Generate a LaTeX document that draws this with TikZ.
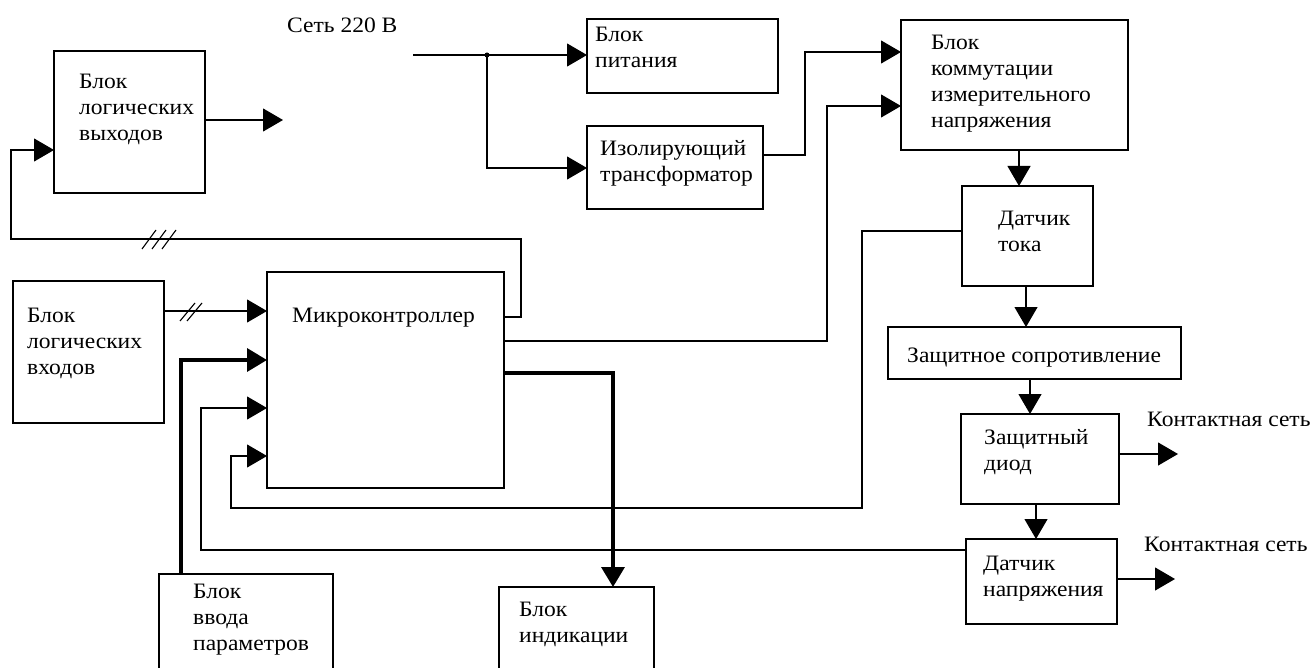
\documentclass[tikz,border=0pt]{standalone}
\usepackage{fontspec}
\setmainfont[FakeStretch=1.07]{Liberation Serif}
\usetikzlibrary{arrows.meta}
\begin{document}
\begin{tikzpicture}[x=1pt,y=-1pt,
  box/.style={draw,line width=1.1pt,inner sep=0pt,outer sep=0pt,anchor=north west},
  txt/.style={anchor=north west,inner sep=0pt,align=left,yshift=18.2pt,font=\fontsize{22}{26}\selectfont},
  ln/.style={line width=1.1pt},
  arr/.style={ln,-{Triangle[length=20pt,width=23pt]}},
  tarr/.style={line width=3.5pt,-{Triangle[length=20pt,width=23pt]}}]
\clip (0,0) rectangle (1311,668);
\useasboundingbox (0,0) rectangle (1311,668);
% boxes
\node[box,minimum width=151pt,minimum height=142pt] (blv) at (54,51) {};
\node[box,minimum width=191pt,minimum height=74pt] (pit) at (587,19) {};
\node[box,minimum width=176pt,minimum height=83pt] (trans) at (587,126) {};
\node[box,minimum width=227pt,minimum height=130pt] (kom) at (901,20) {};
\node[box,minimum width=131pt,minimum height=100pt] (dt) at (962,186) {};
\node[box,minimum width=151pt,minimum height=142pt] (blin) at (13,281) {};
\node[box,minimum width=237pt,minimum height=216pt] (mc) at (267,272) {};
\node[box,minimum width=293pt,minimum height=52pt] (zs) at (888,327) {};
\node[box,minimum width=158pt,minimum height=90pt] (zd) at (961,414) {};
\node[box,minimum width=151pt,minimum height=85pt] (dn) at (966,539) {};
\node[box,minimum width=174pt,minimum height=130pt] (vv) at (159,574) {};
\node[box,minimum width=155pt,minimum height=120pt] (ind) at (499,587) {};
% texts
\node[txt] (tblv) at (79,88) {\strut Блок\\логических\\выходов};
\node[txt] (tset) at (287,32) {\strut Сеть 220 В};
\node[txt] (tpit) at (595,41) {\strut Блок\\питания};
\node[txt] (ttrans) at (600,155) {\strut Изолирующий\\трансформатор};
\node[txt] (tkom) at (931,49) {\strut Блок\\коммутации\\измерительного\\напряжения};
\node[txt] (tdt) at (998,225) {\strut Датчик\\тока};
\node[txt] (tblin) at (27,322) {\strut Блок\\логических\\входов};
\node[txt] (tmc) at (292,322) {\strut Микроконтроллер};
\node[txt] (tzs) at (907,362) {\strut Защитное сопротивление};
\node[txt] (tzd) at (984,444) {\strut Защитный\\диод};
\node[txt] (tk1) at (1147,426) {\strut Контактная сеть};
\node[txt] (tdn) at (983,570) {\strut Датчик\\напряжения};
\node[txt] (tk2) at (1144,551) {\strut Контактная сеть};
\node[txt] (tvv) at (193,598) {\strut Блок\\ввода\\параметров};
\node[txt] (tind) at (519,616) {\strut Блок\\индикации};
% free ends
\coordinate (blvout) at (283,120);
\coordinate (setin) at (413,55);
\coordinate (j) at (487,55);
\coordinate (k1out) at (1178,454);
\coordinate (k2out) at (1175,579);
% connectors
\draw[arr] (blv.east |- blvout) -- (blvout);
\draw[arr] (mc.east |- 0,317) -| (521,239) -| (11,150) -- (blv.west |- 0,150);
\draw[arr] (blin.east |- 0,311) -- (mc.west |- 0,311);
\draw[tarr] (vv.north -| 181,0) |- (mc.west |- 0,360);
\draw[arr] (dn.west |- 0,550) -| (201,408) -- (mc.west |- 0,408);
\draw[arr] (dt.west |- 0,231) -| (862,508) -| (231,456) -- (mc.west |- 0,456);
\draw[arr] (mc.east |- 0,341) -| (827,106) -- (kom.west |- 0,106);
\draw[tarr] (mc.east |- 0,373) -| (ind.north -| 613,0);
\draw[arr] (setin) -- (pit.west |- setin);
\fill (j) circle (2.5pt);
\draw[arr] (j) |- (trans.west |- 0,168);
\draw[arr] (trans.east |- 0,155) -| (805,52) -- (kom.west |- 0,52);
\draw[arr] (kom.south -| 1019,0) -- (dt.north -| 1019,0);
\draw[arr] (dt.south -| 1026,0) -- (zs.north -| 1026,0);
\draw[arr] (zs.south -| 1030,0) -- (zd.north -| 1030,0);
\draw[arr] (zd.south -| 1036,0) -- (dn.north -| 1036,0);
\draw[arr] (zd.east |- k1out) -- (k1out);
\draw[arr] (dn.east |- k2out) -- (k2out);
% bus marks
\draw[ln] (142,249) -- (156,230) (152,249) -- (166,230) (162,249) -- (176,230);
\draw[ln] (180,321) -- (195,303) (187,321) -- (202,303);
\end{tikzpicture}
\end{document}
